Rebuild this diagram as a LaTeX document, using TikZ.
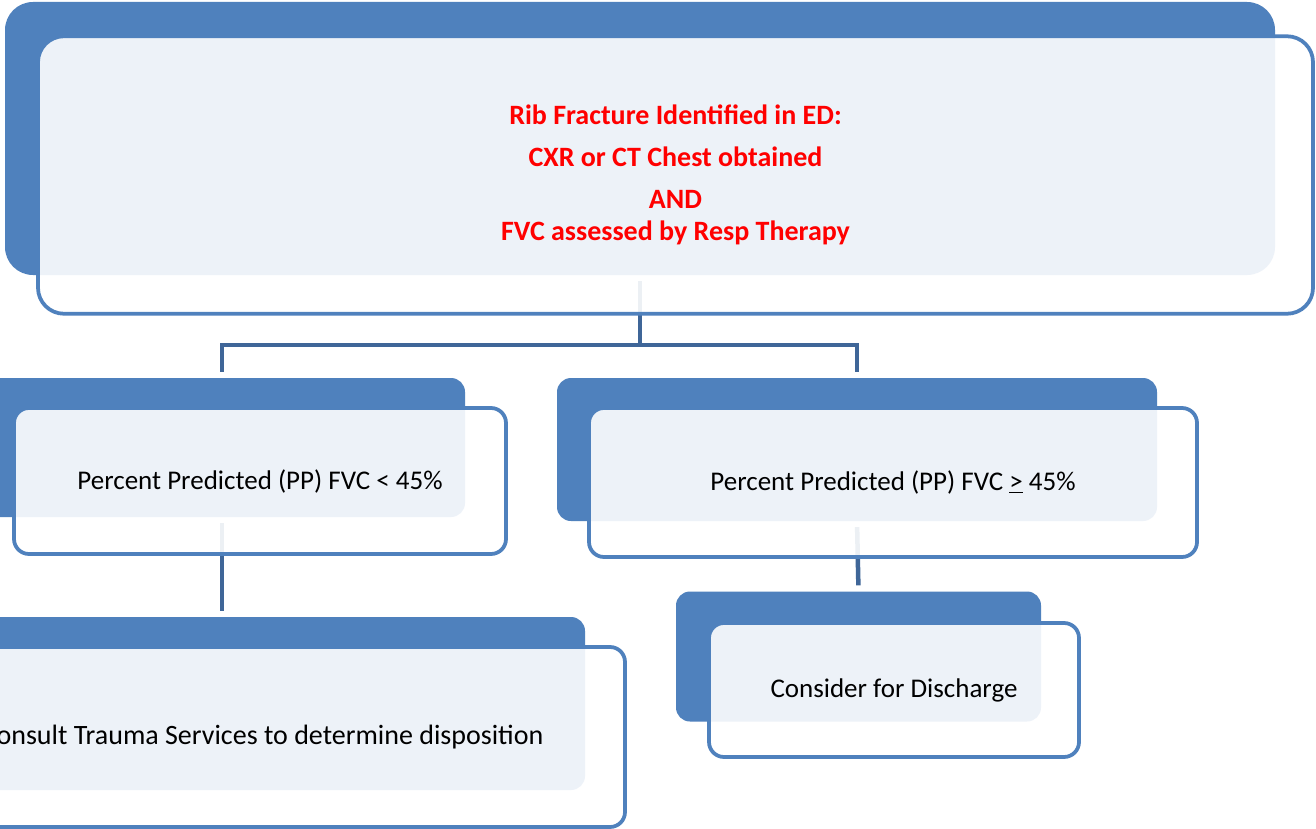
\documentclass[tikz,border=0pt]{standalone}
\usepackage{fontspec}
\setmainfont{Carlito}
\definecolor{sablue}{HTML}{4F81BD}
\definecolor{connblue}{HTML}{3F6698}
\definecolor{txtred}{HTML}{FF0000}
\tikzset{
  backbox/.style={draw=none, fill=sablue, rounded corners=#1, inner sep=0pt},
  backbox/.default=14pt,
  frontbox/.style={draw=sablue, line width=3.75pt, fill=white, fill opacity=0.9, text opacity=1,
     rounded corners=#1, inner sep=0pt, font=\fontsize{27}{32}\selectfont, text=black},
  frontbox/.default=15pt,
  conn/.style={draw=connblue, line width=4.5pt, shorten <=6pt, shorten >=6pt},
}
\begin{document}
\begin{tikzpicture}[x=1pt,y=-1pt]
\useasboundingbox (0,0) rectangle (1316,829);
\clip (0,0) rectangle (1316,829);
\fill[white] (0,0) rectangle (1316,829);
% back shapes
\node[backbox=28pt, minimum width=1270pt, minimum height=273pt] (tb) at (640,138.5) {};
\node[backbox, minimum width=486pt, minimum height=139pt] (lb) at (222,447.5) {};
\node[backbox, minimum width=600pt, minimum height=143pt] (rb) at (857,449.5) {};
\node[backbox, minimum width=726pt, minimum height=173pt] (llb) at (222,703.5) {};
\node[backbox, minimum width=365pt, minimum height=130pt] (rrb) at (858.5,656.5) {};
% connectors
\coordinate (j) at (640,345);
\draw[conn, shorten >=0pt] (tb.south) -- (j);
\draw[conn, shorten <=0pt] (j) -| (lb.north);
\draw[conn, shorten <=0pt] (j) -| (rb.north);
\draw[conn] (lb.south) -- (llb.north);
\draw[conn] (rb.south) -- (rrb.north);
% front shapes
\node[frontbox=26pt, minimum width=1275pt, minimum height=277.5pt, align=center,
  font=\fontsize{28}{32}\selectfont\bfseries, text=txtred] (tf) at (675.5,175)
  {Rib Fracture Identified in ED:\\[10pt]CXR or CT Chest obtained\\[10pt]AND\\FVC assessed by Resp Therapy};
\node[frontbox, minimum width=492pt, minimum height=146pt] (lf) at (260,481)
  {Percent Predicted (PP) FVC < 45\%};
\node[frontbox, minimum width=608pt, minimum height=149pt] (rf) at (893,482.5)
  {Percent Predicted (PP) FVC \underline{>} 45\%};
\node[frontbox, minimum width=725pt, minimum height=180pt, font=\fontsize{28}{32}\selectfont] (llf) at (262.5,737)
  {Consult Trauma Services to determine disposition};
\node[frontbox, minimum width=370pt, minimum height=134pt] (rrf) at (894,690)
  {Consider for Discharge};
\end{tikzpicture}
\end{document}
